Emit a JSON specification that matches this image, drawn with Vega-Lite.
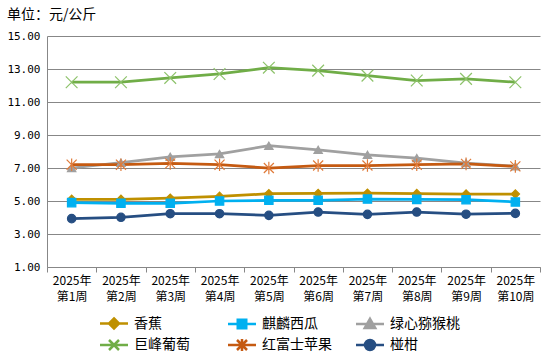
{
  "$schema": "https://vega.github.io/schema/vega-lite/v6.json",
  "width": 493,
  "height": 231,
  "autosize": "none",
  "padding": {"left": 47, "top": 36, "right": 10, "bottom": 95},
  "background": "white",
  "title": {"text": "单位：元/公斤", "anchor": "start", "frame": "bounds", "dx": 0, "offset": 8, "fontSize": 14, "fontWeight": "normal", "font": "Noto Sans CJK SC", "color": "#000000"},
  "config": {
    "view": {"stroke": null},
    "font": "Noto Sans CJK SC"
  },
  "data": {"values": [
    {"w":"2025年第1周","s":"香蕉","v":5.10},{"w":"2025年第2周","s":"香蕉","v":5.10},{"w":"2025年第3周","s":"香蕉","v":5.17},{"w":"2025年第4周","s":"香蕉","v":5.28},{"w":"2025年第5周","s":"香蕉","v":5.44},{"w":"2025年第6周","s":"香蕉","v":5.46},{"w":"2025年第7周","s":"香蕉","v":5.47},{"w":"2025年第8周","s":"香蕉","v":5.45},{"w":"2025年第9周","s":"香蕉","v":5.42},{"w":"2025年第10周","s":"香蕉","v":5.42},
    {"w":"2025年第1周","s":"麒麟西瓜","v":4.90},{"w":"2025年第2周","s":"麒麟西瓜","v":4.86},{"w":"2025年第3周","s":"麒麟西瓜","v":4.86},{"w":"2025年第4周","s":"麒麟西瓜","v":5.00},{"w":"2025年第5周","s":"麒麟西瓜","v":5.04},{"w":"2025年第6周","s":"麒麟西瓜","v":5.04},{"w":"2025年第7周","s":"麒麟西瓜","v":5.12},{"w":"2025年第8周","s":"麒麟西瓜","v":5.10},{"w":"2025年第9周","s":"麒麟西瓜","v":5.08},{"w":"2025年第10周","s":"麒麟西瓜","v":4.94},
    {"w":"2025年第1周","s":"绿心猕猴桃","v":7.00},{"w":"2025年第2周","s":"绿心猕猴桃","v":7.32},{"w":"2025年第3周","s":"绿心猕猴桃","v":7.68},{"w":"2025年第4周","s":"绿心猕猴桃","v":7.85},{"w":"2025年第5周","s":"绿心猕猴桃","v":8.35},{"w":"2025年第6周","s":"绿心猕猴桃","v":8.10},{"w":"2025年第7周","s":"绿心猕猴桃","v":7.80},{"w":"2025年第8周","s":"绿心猕猴桃","v":7.60},{"w":"2025年第9周","s":"绿心猕猴桃","v":7.30},{"w":"2025年第10周","s":"绿心猕猴桃","v":7.10},
    {"w":"2025年第1周","s":"巨峰葡萄","v":12.20},{"w":"2025年第2周","s":"巨峰葡萄","v":12.20},{"w":"2025年第3周","s":"巨峰葡萄","v":12.46},{"w":"2025年第4周","s":"巨峰葡萄","v":12.70},{"w":"2025年第5周","s":"巨峰葡萄","v":13.08},{"w":"2025年第6周","s":"巨峰葡萄","v":12.90},{"w":"2025年第7周","s":"巨峰葡萄","v":12.60},{"w":"2025年第8周","s":"巨峰葡萄","v":12.30},{"w":"2025年第9周","s":"巨峰葡萄","v":12.40},{"w":"2025年第10周","s":"巨峰葡萄","v":12.20},
    {"w":"2025年第1周","s":"红富士苹果","v":7.20},{"w":"2025年第2周","s":"红富士苹果","v":7.20},{"w":"2025年第3周","s":"红富士苹果","v":7.28},{"w":"2025年第4周","s":"红富士苹果","v":7.20},{"w":"2025年第5周","s":"红富士苹果","v":7.00},{"w":"2025年第6周","s":"红富士苹果","v":7.15},{"w":"2025年第7周","s":"红富士苹果","v":7.15},{"w":"2025年第8周","s":"红富士苹果","v":7.20},{"w":"2025年第9周","s":"红富士苹果","v":7.25},{"w":"2025年第10周","s":"红富士苹果","v":7.10},
    {"w":"2025年第1周","s":"椪柑","v":3.93},{"w":"2025年第2周","s":"椪柑","v":4.01},{"w":"2025年第3周","s":"椪柑","v":4.23},{"w":"2025年第4周","s":"椪柑","v":4.23},{"w":"2025年第5周","s":"椪柑","v":4.13},{"w":"2025年第6周","s":"椪柑","v":4.33},{"w":"2025年第7周","s":"椪柑","v":4.19},{"w":"2025年第8周","s":"椪柑","v":4.33},{"w":"2025年第9周","s":"椪柑","v":4.20},{"w":"2025年第10周","s":"椪柑","v":4.25}
  ]},
  "encoding": {
    "x": {
      "field": "w", "type": "nominal", "sort": null,
      "scale": {"type": "band", "paddingInner": 0, "paddingOuter": 0},
      "axis": {"title": null, "labelAngle": 0, "grid": false, "domainColor": "#878787", "tickColor": "#878787", "tickSize": 5, "tickBand": "extent",
        "labelExpr": "[slice(datum.label,0,5), slice(datum.label,5)]", "labelFontSize": 12, "labelColor": "#000000", "labelPadding": 3, "labelLineHeight": 16, "labelBaseline": "top"}
    },
    "y": {
      "field": "v", "type": "quantitative",
      "scale": {"domain": [1, 15], "nice": false, "zero": false},
      "axis": {"title": null, "values": [1,3,5,7,9,11,13,15], "format": ".2f", "grid": true, "gridColor": "#878787", "domainColor": "#878787", "ticks": false, "labelPadding": 7, "labelFontSize": 11, "labelColor": "#000000", "labelFont": "DejaVu Sans Mono"}
    }
  },
  "resolve": {"scale": {"shape": "independent", "fill": "independent", "stroke": "independent"}},
  "layer": [
    {
      "mark": {"type": "line", "strokeWidth": 2.75},
      "encoding": {
        "color": {
          "field": "s", "type": "nominal", "legend": null,
          "scale": {"domain": ["香蕉","麒麟西瓜","绿心猕猴桃","巨峰葡萄","红富士苹果","椪柑"], "range": ["#BF9000","#00B0F0","#A0A0A0","#70AD47","#C55A11","#264E82"]}
        }
      }
    },
    {
      "mark": {"type": "point", "filled": true, "size": 70, "strokeWidth": 1.2, "opacity": 1},
      "encoding": {
        "color": {"field": "s", "type": "nominal", "legend": null},
        "stroke": {
          "field": "s", "type": "nominal", "legend": null,
          "scale": {"domain": ["香蕉","麒麟西瓜","绿心猕猴桃","巨峰葡萄","红富士苹果","椪柑"], "range": ["#BF9000","#00B0F0","#A0A0A0","#8DC26A","#E07B3A","#264E82"]}
        },
        "shape": {
          "field": "s", "type": "nominal", "legend": null,
          "scale": {"domain": ["香蕉","麒麟西瓜","绿心猕猴桃","巨峰葡萄","红富士苹果","椪柑"], "range": ["diamond","square","triangle-up","M-1.4,-1.4L1.4,1.4M1.4,-1.4L-1.4,1.4","M-1.2,-1.2L1.2,1.2M1.2,-1.2L-1.2,1.2M0,-1.5L0,1.5","circle"]}
        }
      }
    },
    {
      "transform": [{"filter": "datum.v < 0"}],
      "mark": {"type": "point", "filled": true, "size": 100, "strokeWidth": 2.5, "opacity": 1},
      "encoding": {
        "fill": {
          "field": "s", "type": "nominal",
          "scale": {"domain": ["香蕉","麒麟西瓜","绿心猕猴桃","巨峰葡萄","红富士苹果","椪柑"], "range": ["#BF9000","#00B0F0","#A0A0A0","#70AD47","#C55A11","#264E82"]},
          "legend": {
            "title": null, "orient": "none", "legendX": 60, "legendY": 280, "direction": "horizontal", "columns": 3, "gridAlign": "all",
            "columnPadding": 19, "rowPadding": 0, "padding": 0,
            "labelFontSize": 14, "labelColor": "#000000", "labelOffset": 13, "symbolSize": 100, "symbolStrokeWidth": 2.5
          }
        },
        "stroke": {
          "field": "s", "type": "nominal",
          "scale": {"domain": ["香蕉","麒麟西瓜","绿心猕猴桃","巨峰葡萄","红富士苹果","椪柑"], "range": ["#BF9000","#00B0F0","#A0A0A0","#70AD47","#C55A11","#264E82"]}
        },
        "shape": {
          "field": "s", "type": "nominal",
          "scale": {"domain": ["香蕉","麒麟西瓜","绿心猕猴桃","巨峰葡萄","红富士苹果","椪柑"], "range": [
            "M-2.8,0L2.8,0M0,-1L1,0L0,1L-1,0Z",
            "M-2.8,0L2.8,0M-0.85,-0.85L0.85,-0.85L0.85,0.85L-0.85,0.85Z",
            "M-2.8,0L2.8,0M0,-1.05L1.05,0.8L-1.05,0.8Z",
            "M-2.8,0L2.8,0M-1,-1L1,1M1,-1L-1,1",
            "M-2.8,0L2.8,0M-1,-1L1,1M1,-1L-1,1M0,-1.2L0,1.2",
            "M-2.8,0L2.8,0M1,0A1,1,0,1,1,-1,0A1,1,0,1,1,1,0Z"
          ]}
        }
      }
    }
  ]
}
